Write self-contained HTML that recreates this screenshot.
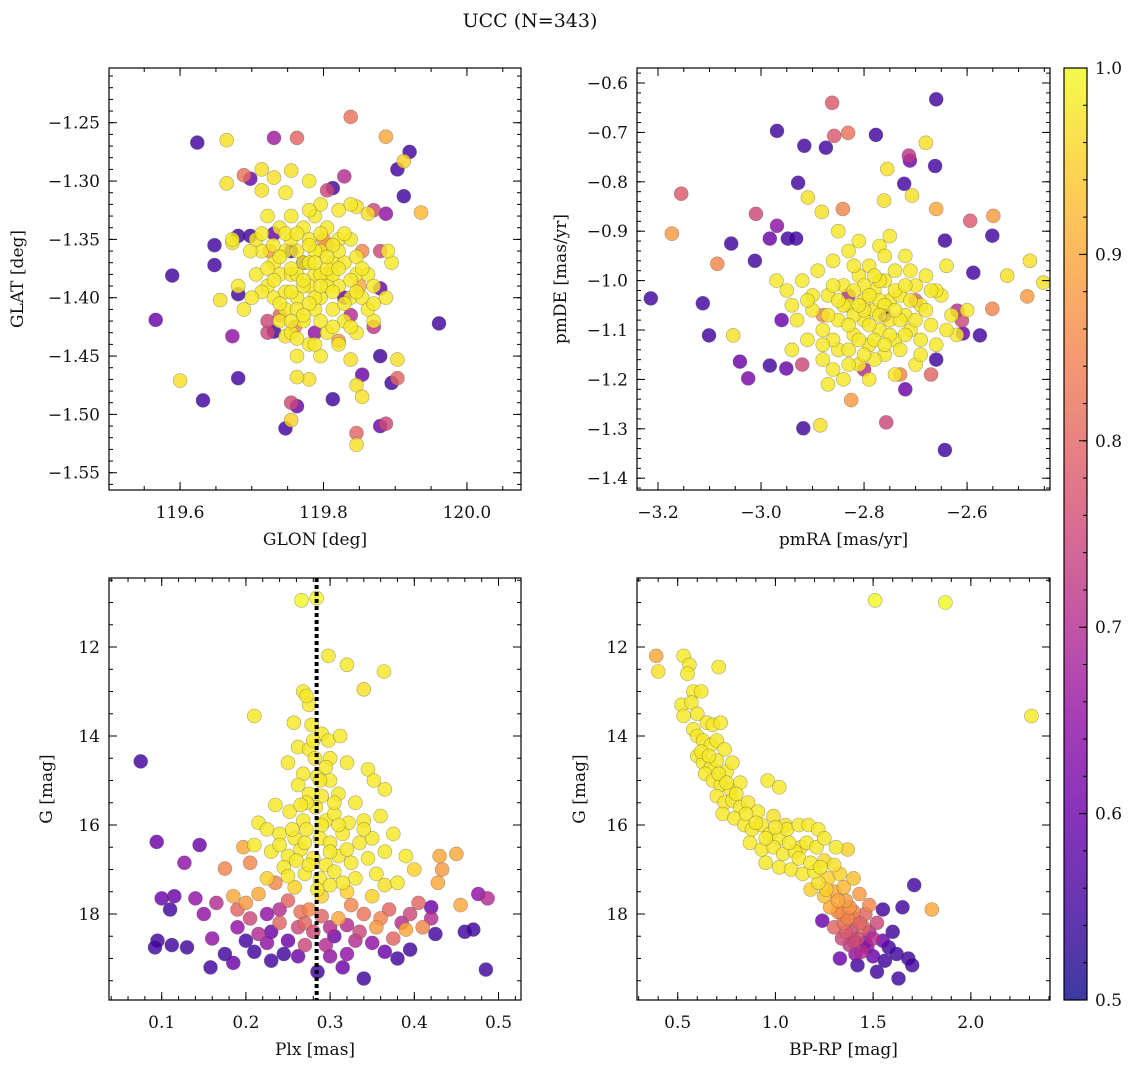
<!DOCTYPE html>
<html><head><meta charset="utf-8"><style>
html,body{margin:0;padding:0;background:#fff}
svg{display:block}
text{font-family:"DejaVu Serif","Liberation Serif",serif;fill:#111}
</style></head><body>
<svg id="fig" width="1136" height="1067" viewBox="0 0 1136 1067" xmlns="http://www.w3.org/2000/svg">
<defs>
<linearGradient id="plasmaGrad" x1="0" y1="1" x2="0" y2="0"></linearGradient>
</defs>
<text x="530" y="27" font-size="19" text-anchor="middle">UCC (N=343)</text>
</svg>
<script>
// ---- data: [x, y, membership probability] ----
const glonGlatPoints = [
[119.624,-1.267,.55],[119.665,-1.265,.97],[119.689,-1.295,.82],[119.698,-1.298,.6],[119.714,-1.290,.97],[119.731,-1.263,.67],[119.763,-1.263,.8],[119.838,-1.245,.82],[119.887,-1.262,.9],[119.829,-1.296,.7],[119.912,-1.283,.95],[119.920,-1.275,.55],[119.903,-1.290,.55],[119.887,-1.328,.65],[119.936,-1.327,.92],[119.912,-1.313,.55],[119.566,-1.419,.6],[119.589,-1.381,.55],[119.600,-1.471,.97],[119.632,-1.488,.55],[119.648,-1.372,.55],[119.648,-1.355,.55],[119.656,-1.402,.97],[119.673,-1.433,.65],[119.681,-1.469,.55],[119.681,-1.397,.55],[119.665,-1.302,.97],[119.673,-1.353,.97],[119.961,-1.422,.55],[119.895,-1.473,.55],[119.903,-1.469,.8],[119.903,-1.453,.97],[119.887,-1.508,.75],[119.879,-1.510,.6],[119.846,-1.526,.97],[119.846,-1.516,.8],[119.755,-1.505,.95],[119.755,-1.490,.75],[119.763,-1.493,.6],[119.747,-1.512,.55],[119.813,-1.487,.55],[119.846,-1.475,.97],[119.879,-1.450,.55],[119.838,-1.453,.97],[119.854,-1.466,.6],[119.854,-1.485,.97],[119.780,-1.470,.97],[119.763,-1.468,.97],[119.722,-1.430,.75],[119.731,-1.429,.55],[119.747,-1.433,.97],[119.821,-1.437,.88],[119.870,-1.425,.72],[119.879,-1.392,.6],[119.879,-1.360,.75],[119.846,-1.322,.97],[119.862,-1.328,.97],[119.870,-1.325,.75],[119.813,-1.306,.55],[119.805,-1.308,.75],[119.755,-1.291,.97],[119.731,-1.297,.97],[119.714,-1.308,.97],[119.698,-1.347,.55],[119.681,-1.347,.55],
[119.722,-1.33,.98],[119.739,-1.34,.98],[119.755,-1.33,.98],[119.772,-1.34,.98],[119.788,-1.33,.98],[119.805,-1.34,.98],[119.821,-1.35,.98],[119.838,-1.35,.98],[119.714,-1.36,.98],[119.731,-1.37,.98],[119.747,-1.36,.98],[119.763,-1.36,.98],[119.780,-1.35,.98],[119.796,-1.36,.98],[119.813,-1.37,.98],[119.829,-1.37,.98],[119.846,-1.38,.98],[119.862,-1.38,.98],[119.706,-1.38,.98],[119.722,-1.39,.98],[119.739,-1.38,.98],[119.755,-1.38,.98],[119.772,-1.37,.98],[119.788,-1.38,.98],[119.805,-1.38,.98],[119.821,-1.39,.98],[119.838,-1.40,.98],[119.854,-1.40,.98],[119.870,-1.39,.98],[119.731,-1.40,.98],[119.747,-1.41,.98],[119.763,-1.40,.98],[119.780,-1.39,.98],[119.796,-1.40,.98],[119.813,-1.41,.98],[119.829,-1.42,.98],[119.739,-1.42,.98],[119.755,-1.43,.98],[119.772,-1.42,.98],[119.788,-1.41,.98],[119.805,-1.43,.98],[119.780,-1.44,.98],[119.821,-1.44,.98],[119.846,-1.43,.98],[119.763,-1.45,.98],[119.796,-1.45,.98],[119.698,-1.36,.98],[119.689,-1.41,.98],[119.887,-1.40,.98],[119.895,-1.37,.98],[119.870,-1.42,.98],[119.838,-1.32,.98],[119.747,-1.31,.98],[119.780,-1.30,.98],[119.796,-1.32,.98],[119.706,-1.35,.98],[119.673,-1.35,.98],[119.681,-1.39,.98],[119.788,-1.36,.98],[119.772,-1.39,.98],[119.805,-1.39,.98],[119.821,-1.36,.98],[119.755,-1.35,.98],[119.788,-1.40,.98],[119.780,-1.37,.98],[119.796,-1.38,.98],[119.763,-1.38,.98],[119.813,-1.38,.98],
[119.772,-1.37,.55],[119.805,-1.355,.85],[119.739,-1.415,.8],[119.829,-1.40,.6],[119.755,-1.36,.55],[119.854,-1.36,.85],[119.722,-1.42,.75],[119.838,-1.415,.7],[119.788,-1.43,.65],[119.731,-1.345,.6]
];
const glonGlatCore = [
[119.714,-1.345,.98],[119.730,-1.355,.98],[119.747,-1.345,.98],[119.763,-1.345,.98],[119.780,-1.355,.98],[119.796,-1.345,.98],[119.813,-1.355,.98],[119.829,-1.345,.98],[119.846,-1.365,.98],[119.722,-1.375,.98],[119.739,-1.365,.98],[119.755,-1.375,.98],[119.772,-1.385,.98],[119.788,-1.37,.98],[119.805,-1.375,.98],[119.821,-1.375,.98],[119.838,-1.385,.98],[119.854,-1.375,.98],[119.714,-1.395,.98],[119.731,-1.385,.98],[119.747,-1.395,.98],[119.763,-1.41,.98],[119.780,-1.405,.98],[119.796,-1.39,.98],[119.813,-1.395,.98],[119.829,-1.405,.98],[119.846,-1.395,.98],[119.862,-1.41,.98],[119.739,-1.405,.98],[119.755,-1.42,.98],[119.772,-1.415,.98],[119.796,-1.42,.98],[119.813,-1.425,.98],[119.838,-1.425,.98],[119.763,-1.435,.98],[119.788,-1.44,.98],[119.755,-1.395,.98],[119.805,-1.365,.98],[119.780,-1.325,.98],[119.821,-1.325,.98],[119.870,-1.405,.98],[119.700,-1.40,.98],[119.890,-1.36,.98],
[119.800,-1.35,.88],[119.760,-1.425,.85],[119.850,-1.39,.9],[119.725,-1.36,.88]
];
const pmPoints = [
[-2.862,-0.640,.78],[-2.660,-0.633,.55],[-2.969,-0.697,.55],[-2.916,-0.727,.55],[-2.874,-0.731,.55],[-2.858,-0.707,.78],[-2.831,-0.701,.82],[-2.777,-0.705,.55],[-2.680,-0.721,.97],[-2.713,-0.747,.72],[-2.711,-0.757,.6],[-2.662,-0.768,.55],[-2.755,-0.774,.97],[-2.722,-0.804,.55],[-2.707,-0.828,.97],[-2.761,-0.838,.97],[-2.928,-0.802,.55],[-2.909,-0.832,.97],[-2.882,-0.861,.97],[-2.841,-0.855,.85],[-3.058,-0.925,.55],[-3.155,-0.824,.78],[-3.173,-0.905,.88],[-3.085,-0.966,.85],[-3.214,-1.036,.55],[-3.113,-1.046,.55],[-3.101,-1.111,.55],[-3.054,-1.111,.97],[-3.041,-1.164,.6],[-3.025,-1.198,.62],[-3.012,-0.960,.55],[-3.010,-0.865,.75],[-2.969,-0.889,.65],[-2.983,-0.915,.6],[-2.948,-0.915,.55],[-2.932,-0.915,.55],[-2.983,-1.172,.55],[-2.951,-1.178,.6],[-2.918,-1.299,.55],[-2.885,-1.293,.97],[-2.825,-1.242,.88],[-2.757,-1.287,.75],[-2.643,-1.343,.55],[-2.575,-1.111,.55],[-2.549,-0.869,.88],[-2.594,-0.879,.78],[-2.551,-0.909,.55],[-2.588,-0.984,.55],[-2.551,-1.057,.85],[-2.522,-0.990,.97],[-2.478,-0.960,.97],[-2.452,-1.004,.97],[-2.483,-1.032,.88],[-2.610,-1.081,.75],[-2.608,-1.107,.6],[-2.619,-1.061,.7],[-2.643,-0.919,.55],[-2.660,-0.855,.9],
[-2.92,-1.00,.98],[-2.90,-1.06,.98],[-2.89,-0.98,.98],[-2.88,-1.10,.98],[-2.87,-1.03,.98],[-2.86,-0.96,.98],[-2.85,-1.08,.98],[-2.85,-1.14,.98],[-2.84,-1.01,.98],[-2.83,-0.94,.98],[-2.83,-1.05,.98],[-2.82,-1.11,.98],[-2.81,-0.99,.98],[-2.81,-1.17,.98],[-2.80,-1.04,.98],[-2.80,-1.08,.98],[-2.79,-0.97,.98],[-2.79,-1.13,.98],[-2.78,-1.02,.98],[-2.78,-1.06,.98],[-2.77,-1.10,.98],[-2.77,-0.93,.98],[-2.76,-1.00,.98],[-2.76,-1.15,.98],[-2.75,-1.04,.98],[-2.75,-1.08,.98],[-2.74,-0.98,.98],[-2.74,-1.12,.98],[-2.73,-1.03,.98],[-2.72,-1.07,.98],[-2.72,-0.95,.98],[-2.71,-1.10,.98],[-2.70,-1.01,.98],[-2.70,-1.17,.98],[-2.69,-1.05,.98],[-2.68,-0.99,.98],[-2.67,-1.09,.98],[-2.66,-1.13,.98],[-2.65,-1.03,.98],[-2.64,-0.97,.98],[-2.63,-1.07,.98],[-2.62,-1.11,.98],[-2.91,-1.12,.98],[-2.93,-1.08,.98],[-2.88,-1.16,.98],[-2.84,-1.20,.98],[-2.79,-1.20,.98],[-2.74,-1.19,.98],[-2.86,-1.12,.98],[-2.82,-1.07,.98],[-2.80,-1.01,.98],[-2.77,-1.04,.98],[-2.73,-1.14,.98],[-2.69,-1.12,.98],[-2.81,-0.92,.98],[-2.76,-0.95,.98],[-2.71,-0.98,.98],[-2.66,-1.02,.98],[-2.90,-1.03,.98],[-2.94,-1.14,.98],[-2.95,-1.02,.98],[-2.97,-1.00,.98],[-2.60,-1.06,.98],[-2.87,-1.21,.98],[-2.83,-1.17,.98],[-2.78,-1.16,.98],[-2.75,-0.91,.98],[-2.85,-0.90,.98],
[-2.83,-1.03,.7],[-2.76,-1.07,.6],[-2.70,-1.04,.8],[-2.88,-1.07,.85],[-2.73,-1.19,.85],[-2.67,-1.19,.8],[-2.92,-1.17,.75],[-2.96,-1.08,.6],[-2.66,-1.16,.55],[-2.80,-1.18,.7],[-2.72,-1.22,.6]
];
const pmCore = [
[-2.91,-1.04,.98],[-2.87,-1.07,.98],[-2.86,-1.01,.98],[-2.84,-1.05,.98],[-2.83,-1.09,.98],[-2.82,-1.02,.98],[-2.81,-1.12,.98],[-2.80,-1.06,.98],[-2.79,-1.03,.98],[-2.79,-1.09,.98],[-2.78,-1.12,.98],[-2.77,-1.00,.98],[-2.76,-1.05,.98],[-2.75,-1.11,.98],[-2.74,-1.02,.98],[-2.73,-1.08,.98],[-2.72,-1.11,.98],[-2.71,-1.04,.98],[-2.70,-1.08,.98],[-2.68,-1.06,.98],[-2.67,-1.02,.98],[-2.85,-1.04,.98],[-2.81,-1.05,.98],[-2.77,-1.07,.98],[-2.74,-1.06,.98],[-2.82,-0.97,.98],[-2.78,-0.99,.98],[-2.88,-1.13,.98],[-2.76,-1.13,.98],[-2.69,-1.15,.98],[-2.64,-1.10,.98],[-2.94,-1.05,.98],[-2.86,-1.18,.98],[-2.80,-1.15,.98],[-2.72,-1.01,.98],[-2.83,-1.14,.98]
];
const plxGPoints = [
[0.266,10.95,1],[0.284,10.9,1],[0.298,12.2,.98],[0.320,12.4,.98],[0.364,12.55,.98],[0.340,12.95,.97],[0.268,13.0,.98],[0.275,13.3,.98],[0.272,13.1,.98],[0.210,13.55,.98],[0.257,13.7,.98],[0.278,13.75,.98],[0.290,13.95,.98],[0.298,14.1,.98],[0.312,14.0,.98],[0.262,14.25,.98],[0.275,14.3,.98],[0.282,14.5,.98],[0.300,14.5,.98],[0.320,14.6,.98],[0.250,14.6,.98],[0.268,14.85,.98],[0.285,14.9,.98],[0.300,15.0,.98],[0.345,14.75,.98],[0.352,15.0,.98],[0.365,15.2,.98],[0.262,15.1,.98],[0.275,15.3,.98],[0.290,15.35,.98],[0.310,15.3,.98],[0.330,15.5,.98],[0.235,15.55,.98],[0.252,15.7,.98],[0.268,15.9,.98],[0.283,15.6,.98],[0.295,15.9,.98],[0.305,15.75,.98],[0.322,15.95,.98],[0.340,15.9,.98],[0.360,15.8,.98],[0.215,15.95,.98],[0.225,16.1,.98],[0.240,16.2,.98],[0.258,16.3,.98],[0.272,16.1,.98],[0.288,16.3,.98],[0.300,16.4,.98],[0.315,16.2,.98],[0.335,16.4,.98],[0.350,16.3,.98],[0.375,16.2,.98],[0.210,16.45,.98],[0.230,16.6,.98],[0.250,16.7,.98],[0.265,16.55,.98],[0.280,16.75,.98],[0.295,16.9,.98],[0.310,16.7,.98],[0.325,16.85,.98],[0.345,16.75,.98],[0.365,16.6,.98],[0.390,16.7,.98],[0.245,16.95,.98],[0.270,17.1,.98],[0.288,17.2,.98],[0.305,17.05,.98],[0.330,17.2,.98],[0.355,17.1,.98],[0.380,17.3,.98],[0.400,17.0,.95],[0.225,17.2,.95],[0.258,17.4,.95],[0.290,17.6,.95],[0.320,17.5,.95],[0.350,17.6,.95],[0.365,17.35,.97],
[0.075,14.57,.55],[0.094,16.38,.6],[0.127,16.85,.65],[0.145,16.45,.6],[0.175,16.98,.85],[0.197,16.5,.9],[0.205,16.85,.85],[0.430,16.7,.9],[0.450,16.65,.9],[0.428,17.3,.9],[0.433,17.0,.88],[0.455,17.8,.9],[0.476,17.55,.65],[0.487,17.65,.7],[0.420,17.85,.6],[0.405,17.75,.8],[0.395,18.0,.75],[0.385,18.2,.7],[0.410,18.3,.85],[0.425,18.45,.55],[0.460,18.4,.55],[0.470,18.35,.55],[0.485,19.25,.55],[0.395,18.8,.55],[0.380,19.0,.55],[0.365,18.85,.6],[0.340,19.45,.55],[0.350,18.65,.65],[0.335,18.4,.75],[0.320,18.25,.7],[0.305,18.5,.6],[0.290,18.05,.8],[0.275,17.9,.85],[0.262,18.3,.75],[0.250,18.6,.6],[0.240,18.2,.8],[0.225,18.65,.65],[0.210,18.85,.55],[0.215,18.45,.7],[0.200,18.6,.55],[0.190,18.3,.65],[0.185,19.1,.6],[0.175,18.9,.55],[0.165,17.75,.7],[0.160,18.55,.65],[0.158,19.2,.55],[0.150,18.0,.65],[0.140,17.65,.65],[0.130,18.75,.55],[0.115,17.6,.6],[0.110,17.9,.55],[0.100,17.65,.6],[0.095,18.6,.55],[0.092,18.75,.55],[0.112,18.7,.55],[0.185,17.6,.9],[0.200,17.75,.88],[0.215,17.55,.9],[0.235,17.3,.85],[0.250,17.7,.8],[0.265,17.95,.82],[0.280,18.4,.75],[0.295,18.7,.7],[0.310,18.1,.9],[0.325,17.8,.85],[0.340,18.0,.82],[0.355,18.3,.88],[0.370,17.9,.8],[0.285,19.3,.55],[0.262,18.95,.6],[0.245,18.9,.55],[0.230,19.05,.55],[0.300,18.95,.65],[0.315,19.2,.6],[0.375,18.55,.8],[0.390,18.35,.9],[0.240,17.9,.7],[0.270,18.7,.75],[0.330,18.6,.7],[0.225,18.0,.65],[0.205,18.1,.75]
];
const plxGCore = [
[0.280,14.1,.98],[0.295,14.7,.98],[0.272,15.5,.98],[0.305,15.5,.98],[0.288,15.0,.98],[0.270,16.4,.98],[0.290,16.0,.98],[0.310,16.0,.98],[0.260,16.8,.98],[0.300,16.6,.98],[0.315,17.3,.98],[0.275,16.9,.98],[0.255,16.1,.98],[0.320,16.55,.98],[0.285,17.45,.98],[0.240,16.45,.98],[0.340,16.1,.98],[0.250,17.15,.98],[0.300,17.35,.98],[0.265,15.55,.98],
[0.270,18.2,.8],[0.300,18.3,.7],[0.320,18.9,.65],[0.230,18.4,.6],[0.360,18.1,.85],[0.190,17.9,.8],[0.420,18.1,.7]
];
const cmdPoints = [
[1.51,10.95,1],[1.87,11.0,1],[2.31,13.55,.98],[0.39,12.2,.9],[0.40,12.55,.97],[0.53,12.2,.98],[0.56,12.4,.98],[0.71,12.45,.98],[0.55,12.6,.98],[0.58,13.0,.98],[0.62,13.0,.98],[0.52,13.3,.98],[0.57,13.25,.98],[0.53,13.55,.98],[0.60,13.5,.98],[0.65,13.7,.98],[0.68,13.75,.98],[0.72,13.7,.98],[0.58,13.85,.98],[0.60,14.0,.98],[0.63,14.1,.98],[0.67,14.2,.98],[0.70,14.1,.98],[0.74,14.3,.98],[0.60,14.45,.98],[0.63,14.6,.98],[0.67,14.7,.98],[0.70,14.55,.98],[0.75,14.8,.98],[0.78,14.6,.98],[0.64,14.85,.98],[0.68,15.0,.98],[0.72,15.1,.98],[0.77,15.2,.98],[0.82,15.05,.98],[0.96,15.0,.98],[1.02,15.15,.98],[0.70,15.35,.98],[0.74,15.5,.98],[0.78,15.45,.98],[0.82,15.6,.98],[0.86,15.5,.98],[0.91,15.7,.98],[0.73,15.75,.98],[0.79,15.85,.98],[0.84,16.0,.98],[0.88,16.1,.98],[0.93,16.0,.98],[0.97,16.2,.98],[1.02,16.3,.98],[1.06,16.1,.98],[1.12,16.0,.98],[1.17,16.0,.98],[1.22,16.1,.98],[0.87,16.4,.98],[0.93,16.55,.98],[0.99,16.5,.98],[1.04,16.65,.98],[1.10,16.6,.98],[1.16,16.4,.98],[1.21,16.5,.98],[1.25,16.3,.98],[1.31,16.5,.98],[1.37,16.55,.95],[0.95,16.85,.98],[1.02,16.95,.98],[1.08,17.0,.98],[1.14,17.1,.98],[1.20,17.05,.98],[1.27,17.2,.95],[1.33,17.1,.95],[1.40,17.2,.93],[1.18,17.45,.95],[1.25,17.6,.93],[1.30,17.5,.9],[1.36,17.7,.88],[1.43,17.55,.88],[1.48,17.8,.85],[1.28,17.85,.9],[1.34,18.0,.85],[1.40,18.1,.8],[1.46,18.0,.8],[1.52,18.2,.75],[1.30,18.3,.8],[1.36,18.4,.78],[1.42,18.55,.75],[1.48,18.4,.7],[1.55,18.6,.6],[1.60,18.4,.55],[1.38,18.7,.72],[1.44,18.85,.7],[1.50,18.95,.6],[1.56,19.05,.55],[1.62,18.9,.55],[1.68,19.0,.55],[1.42,19.15,.55],[1.52,19.3,.55],[1.63,19.45,.55],[1.58,18.75,.55],[1.70,19.15,.55],[1.80,17.9,.9],[1.71,17.35,.55],[1.65,17.85,.55],[1.55,17.9,.55],[1.24,18.15,.6],[1.33,19.0,.6],[1.47,18.75,.65],[1.40,18.6,.75],[1.45,18.3,.8],[1.35,18.2,.82],[1.32,17.95,.86],[1.38,17.85,.87],[1.50,18.55,.7],[1.22,17.3,.97],[1.05,16.0,.97],[0.99,15.8,.97],[1.13,16.5,.97],[1.25,16.8,.96]
];
const cmdCore = [
[0.62,14.35,.98],[0.66,14.45,.98],[0.71,14.85,.98],[0.75,15.05,.98],[0.80,15.3,.98],[0.85,15.75,.98],[0.90,15.95,.98],[0.95,16.3,.98],[1.00,16.05,.98],[1.07,16.4,.98],[1.12,16.75,.98],[1.18,16.85,.98],[1.23,16.95,.98],[1.30,16.9,.97],[1.26,17.45,.95],[1.35,17.4,.92],[1.32,17.7,.9],[1.40,17.95,.85],[1.37,18.1,.85],[1.43,18.2,.8],[1.39,18.35,.75],[1.46,18.65,.65],[1.34,18.55,.75],[1.41,18.9,.65]
];
const glonTicks = [119.6,119.8,120.0];
const glatTicks = [-1.25,-1.30,-1.35,-1.40,-1.45,-1.50,-1.55];
const pmraTicks = [-3.2,-3.0,-2.8,-2.6];
const pmdeTicks = [-0.6,-0.7,-0.8,-0.9,-1.0,-1.1,-1.2,-1.3,-1.4];
const plxTicks = [0.1,0.2,0.3,0.4,0.5];
const gTicks = [12,14,16,18];
const bprpTicks = [0.5,1.0,1.5,2.0];
const cbarTicks = [0.5,0.6,0.7,0.8,0.9,1.0];
const plxLine = [0.284];

const NS = "http://www.w3.org/2000/svg";
const svg = document.getElementById('fig');
const plasma = ["#0d0887","#41049d","#6a00a8","#8f0da4","#b12a90","#cc4778","#e16462","#f2844b","#fca636","#fcce25","#f0f921"];
function hex(h){return [1,3,5].map(i=>parseInt(h.substr(i,2),16));}
function cmap(v){
  let t=Math.max(0,Math.min(1,(v-0.5)/0.5))*10; let i=Math.min(9,Math.floor(t)); let f=t-i;
  const a=hex(plasma[i]), b=hex(plasma[i+1]);
  return 'rgb('+a.map((c,k)=>Math.round(c+(b[k]-c)*f)).join(',')+')';
}
function el(tag,attrs,parent){const e=document.createElementNS(NS,tag);for(const k in attrs)e.setAttribute(k,attrs[k]);(parent||svg).appendChild(e);return e;}
function fmt(v,d){return (v<0?'\u2212':'')+Math.abs(v).toFixed(d);}
const FS=17;

function panel(cfg){
  const g=el('g',{});
  
  
  const sx=v=>cfg.L+(v-cfg.xd[0])/(cfg.xd[1]-cfg.xd[0])*(cfg.R-cfg.L);
  const sy=v=>cfg.B-(v-cfg.yd[0])/(cfg.yd[1]-cfg.yd[0])*(cfg.B-cfg.T);
  const clip='clip-'+cfg.name;
  const cp=el('clipPath',{id:clip},g); el('rect',{x:cfg.L,y:cfg.T,width:cfg.R-cfg.L,height:cfg.B-cfg.T},cp);
  const pg=el('g',{'clip-path':'url(#'+clip+')'},g);
  const pts=cfg.pts.slice().sort((a,b)=>a[2]-b[2]);
  pts.forEach(p=>{
    const c=el('circle',{cx:sx(p[0]).toFixed(1),cy:sy(p[1]).toFixed(1),r:7,fill:cmap(p[2]),'fill-opacity':0.82,stroke:'#555','stroke-opacity':0.5,'stroke-width':0.6},pg);
    
    
  });
  if(cfg.vline){cfg.vline.forEach(v=>{
    const l=el('line',{x1:sx(v),x2:sx(v),y1:cfg.T,y2:cfg.B,stroke:'#000','stroke-width':4,'stroke-dasharray':'4 3'},pg);
    
    
  });}
  const tk=el('g',{stroke:'#000','stroke-width':1},g);
  function xt(v,len){const x=sx(v);if(x<cfg.L-0.5||x>cfg.R+0.5)return;el('line',{x1:x,x2:x,y1:cfg.B,y2:cfg.B-len},tk);el('line',{x1:x,x2:x,y1:cfg.T,y2:cfg.T+len},tk);}
  function yt(v,len){const y=sy(v);if(y<cfg.T-0.5||y>cfg.B+0.5)return;el('line',{x1:cfg.L,x2:cfg.L+len,y1:y,y2:y},tk);el('line',{x1:cfg.R,x2:cfg.R-len,y1:y,y2:y},tk);}
  for(let v=Math.ceil(cfg.xd[0]/cfg.xm-1e-6)*cfg.xm;v<=cfg.xd[1];v+=cfg.xm)xt(v,4);
  const ylo=Math.min(...cfg.yd),yhi=Math.max(...cfg.yd);
  for(let v=Math.ceil(ylo/cfg.ym-1e-6)*cfg.ym;v<=yhi;v+=cfg.ym)yt(v,4);
  cfg.xt.forEach(v=>{xt(v,8);
    const t=el('text',{x:sx(v),y:cfg.B+28,'font-size':FS,'text-anchor':'middle'},g);t.textContent=fmt(v,cfg.xdig);
    
    });
  cfg.yt.forEach(v=>{yt(v,8);
    const t=el('text',{x:cfg.L-9,y:sy(v)+6,'font-size':FS,'text-anchor':'end'},g);t.textContent=fmt(v,cfg.ydig);
    
    });
  const fr=el('rect',{x:cfg.L,y:cfg.T,width:cfg.R-cfg.L,height:cfg.B-cfg.T,fill:'none',stroke:'#000','stroke-width':1.2},g);
  
  
  const xl=el('text',{x:(cfg.L+cfg.R)/2,y:cfg.B+55,'font-size':FS,'text-anchor':'middle'},g);xl.textContent=cfg.xlabel;
  
  
  const yx=cfg.ylx, yy=(cfg.T+cfg.B)/2;
  const yl=el('text',{x:yx,y:yy,'font-size':FS,'text-anchor':'middle',transform:'rotate(-90 '+yx+' '+yy+')'},g);yl.textContent=cfg.ylabel;
  
  
}

panel({name:'glon-glat-panel',L:109,R:521,T:68,B:490,xd:[119.5009,120.0754],yd:[-1.5648,-1.2031],xm:0.05,ym:0.01,xt:glonTicks,yt:glatTicks,xdig:1,ydig:2,pts:glonGlatPoints.concat(glonGlatCore),xlabel:'GLON [deg]',ylabel:'GLAT [deg]',ylx:23});
panel({name:'proper-motion-panel',L:637,R:1050,T:68,B:490,xd:[-3.2408,-2.439],yd:[-1.4239,-0.5696],xm:0.05,ym:0.02,xt:pmraTicks,yt:pmdeTicks,xdig:1,ydig:1,pts:pmPoints.concat(pmCore),xlabel:'pmRA [mas/yr]',ylabel:'pmDE [mas/yr]',ylx:566});
panel({name:'parallax-magnitude-panel',L:109,R:521,T:578,B:1000,xd:[0.0374,0.5267],yd:[19.933,10.449],xm:0.02,ym:0.5,xt:plxTicks,yt:gTicks,xdig:1,ydig:0,pts:plxGPoints.concat(plxGCore),vline:plxLine,xlabel:'Plx [mas]',ylabel:'G [mag]',ylx:52});
panel({name:'color-magnitude-panel',L:637,R:1050,T:578,B:1000,xd:[0.2917,2.405],yd:[19.933,10.449],xm:0.1,ym:0.5,xt:bprpTicks,yt:gTicks,xdig:1,ydig:0,pts:cmdPoints.concat(cmdCore),xlabel:'BP-RP [mag]',ylabel:'G [mag]',ylx:585});

const grad=document.getElementById('plasmaGrad');
plasma.forEach((c,i)=>el('stop',{offset:(i*10)+'%','stop-color':c},grad));
const cb=el('g',{});


const cbT=68,cbB=1000,cbL=1064,cbR=1087;
el('rect',{x:cbL,y:cbT,width:cbR-cbL,height:cbB-cbT,fill:'url(#plasmaGrad)','fill-opacity':0.8},cb);
el('rect',{x:cbL,y:cbT,width:cbR-cbL,height:cbB-cbT,fill:'none',stroke:'#000','stroke-width':1.2},cb);
const cy=v=>cbB-(v-0.5)/0.5*(cbB-cbT);
for(let v=0.5;v<=1.0001;v+=0.02){el('line',{x1:cbR,x2:cbR-4,y1:cy(v),y2:cy(v),stroke:'#000','stroke-width':1},cb);}
cbarTicks.forEach(v=>{
  el('line',{x1:cbR,x2:cbR-8,y1:cy(v),y2:cy(v),stroke:'#000','stroke-width':1},cb);
  const t=el('text',{x:1095,y:cy(v)+6,'font-size':FS},cb);t.textContent=v.toFixed(1);
  
  
});
</script>
</body></html>
